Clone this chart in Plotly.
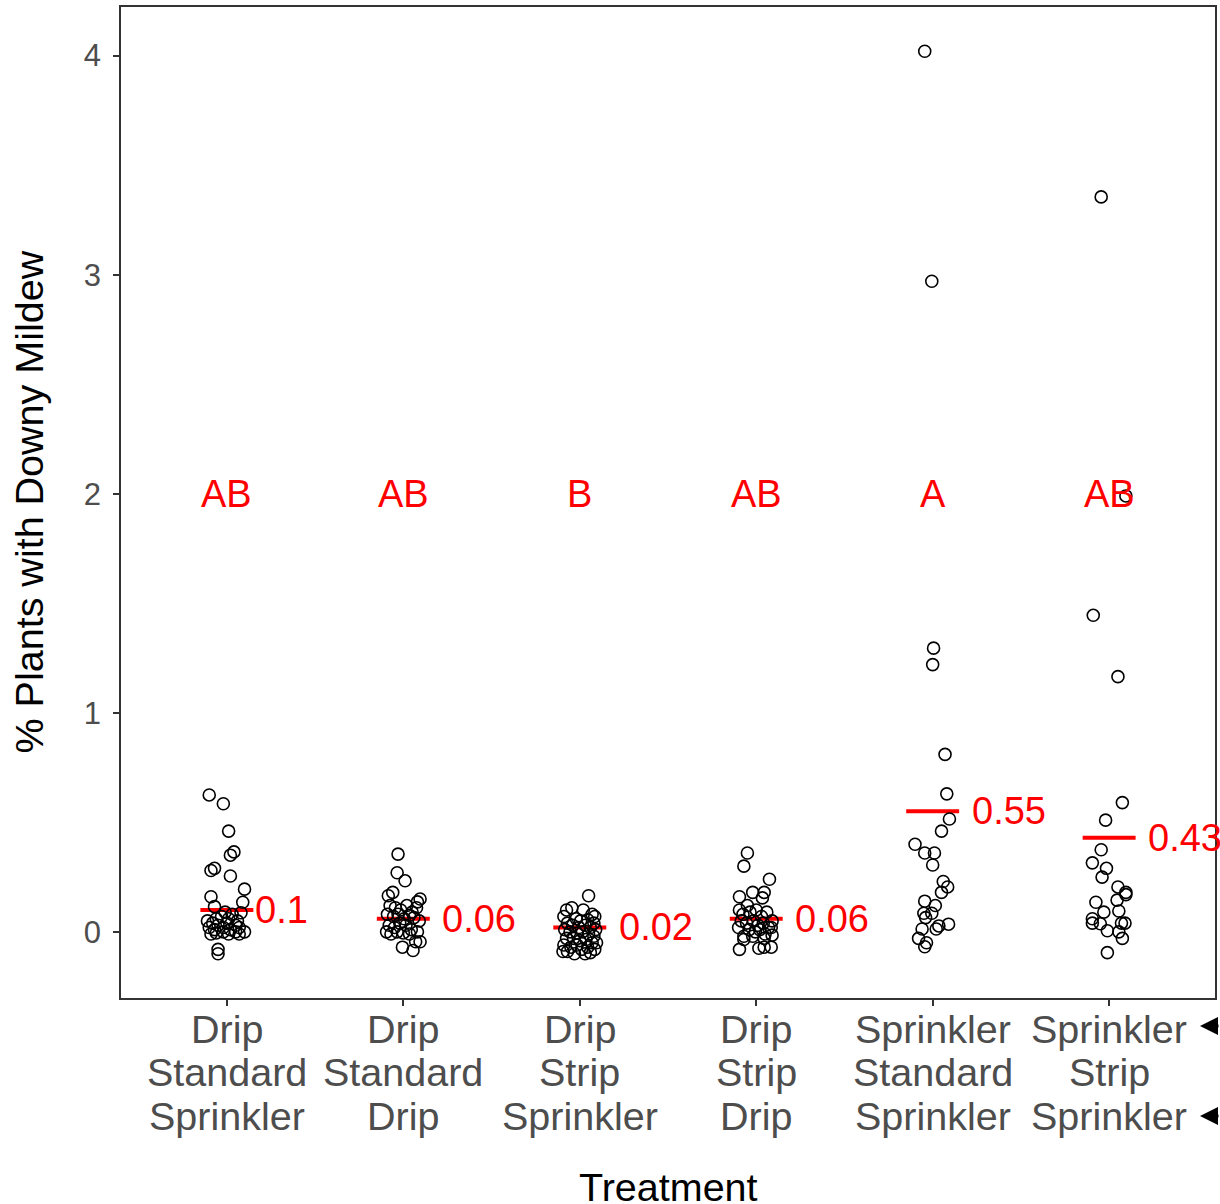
import plotly.graph_objects as go

# ---------------- data ----------------
category_lines = [
    ["Drip", "Standard", "Sprinkler"],
    ["Drip", "Standard", "Drip"],
    ["Drip", "Strip", "Sprinkler"],
    ["Drip", "Strip", "Drip"],
    ["Sprinkler", "Standard", "Sprinkler"],
    ["Sprinkler", "Strip", "Sprinkler"],
]
group_letters = ["AB", "AB", "B", "AB", "A", "AB"]
group_means = [0.1, 0.06, 0.02, 0.06, 0.55, 0.43]

jit_1 = [-0.10, -0.02, 0.01, 0.02, 0.04, -0.09, -0.07, 0.02, 0.10, -0.09, 0.09, -0.07, 0.08, -0.11, -0.08,
         -0.06, -0.03, -0.01, 0.01, 0.03, 0.06, -0.10, -0.07, -0.05, -0.02, 0.00, 0.02, 0.05, 0.07, -0.09,
         -0.06, -0.02, 0.01, 0.05, 0.10, 0.07, -0.05, -0.05]
val_1 = [0.625, 0.585, 0.46, 0.35, 0.365, 0.28, 0.29, 0.255, 0.195, 0.16, 0.135, 0.115, 0.087, 0.05, 0.04,
         0.06, 0.07, 0.09, 0.06, 0.08, 0.05, 0.02, 0.01, 0.03, 0.02, 0.04, 0.01, 0.03, 0.02, -0.01,
         -0.005, 0.0, -0.01, 0.0, 0.0, -0.01, -0.08, -0.10]

jit_2 = [-0.03, -0.035, 0.01, -0.06, -0.085, 0.095, 0.08, -0.075, -0.045, -0.015, 0.02, 0.05, 0.075, -0.09,
         -0.055, -0.03, 0.005, 0.035, 0.06, 0.09, -0.08, -0.05, -0.02, 0.015, 0.045, 0.08, -0.095, -0.07,
         -0.035, 0.0, 0.035, 0.07, -0.005, 0.055, 0.095]
val_2 = [0.355, 0.27, 0.233, 0.18, 0.165, 0.15, 0.137, 0.12, 0.11, 0.1, 0.12, 0.09, 0.11, 0.08,
         0.07, 0.08, 0.06, 0.075, 0.065, 0.05, 0.03, 0.02, 0.04, 0.03, 0.01, 0.0, 0.0, -0.01,
         0.0, -0.005, -0.01, -0.045, -0.07, -0.085, -0.045]

jit_3 = [0.05, -0.075, -0.045, 0.02, 0.07, 0.085, -0.09, -0.02, 0.005, 0.045, 0.08, -0.07, -0.04, -0.005,
         0.03, 0.06, 0.09, -0.085, -0.055, -0.015, 0.015, 0.05, 0.08, -0.075, -0.035, 0.0, 0.035, 0.07,
         -0.09, -0.05, -0.015, 0.01, 0.045, 0.085, -0.07, -0.03, 0.03, 0.06, -0.095, 0.095]
val_3 = [0.165, 0.1, 0.11, 0.1, 0.08, 0.07, 0.07, 0.06, 0.05, 0.055, 0.04, 0.04, 0.03, 0.02,
         0.03, 0.02, 0.01, 0.01, 0.0, -0.005, 0.0, -0.01, -0.02, -0.03, -0.03, -0.04, -0.035, -0.05,
         -0.06, -0.07, -0.06, -0.08, -0.07, -0.08, -0.09, -0.1, -0.1, -0.095, -0.09, -0.05]

jit_4 = [-0.05, -0.07, 0.075, -0.095, -0.02, 0.045, 0.035, -0.05, -0.095, -0.075, -0.035, 0.0, 0.03, 0.06,
         0.09, -0.085, -0.055, -0.015, 0.01, 0.04, 0.07, -0.1, -0.04, -0.005, 0.02, 0.05, 0.085, -0.07,
         -0.02, 0.09, -0.07, 0.045, -0.095, 0.015, 0.045, 0.085]
val_4 = [0.36, 0.3, 0.24, 0.16, 0.18, 0.18, 0.155, 0.12, 0.1, 0.08, 0.09, 0.1, 0.07, 0.09,
         0.05, 0.05, 0.04, 0.05, 0.03, 0.04, 0.02, 0.02, 0.01, 0.0, 0.01, -0.01, 0.02, -0.02,
         -0.02, -0.015, -0.035, -0.03, -0.08, -0.075, -0.07, -0.07]

jit_5 = [-0.045, -0.005, 0.005, 0.0, 0.07, 0.08, 0.095, 0.05, -0.1, -0.045, 0.01, 0.0, 0.06, 0.085,
         0.05, -0.045, 0.015, -0.05, -0.005, -0.04, 0.09, 0.035, 0.02, -0.06, -0.08, -0.035, -0.045]
val_5 = [4.02, 2.97, 1.295, 1.22, 0.81, 0.63, 0.515, 0.46, 0.40, 0.36, 0.36, 0.305, 0.23, 0.205,
         0.18, 0.14, 0.12, 0.085, 0.085, 0.065, 0.035, 0.027, 0.013, 0.013, -0.03, -0.05, -0.068]

jit_6 = [-0.045, 0.095, -0.09, 0.05, 0.075, -0.02, -0.045, -0.095, -0.015, -0.04, 0.05, 0.095, 0.095,
         0.045, -0.075, -0.03, 0.055, -0.095, -0.095, -0.05, 0.07, 0.09, -0.01, 0.055, 0.075, -0.01]
val_6 = [3.355, 1.99, 1.445, 1.165, 0.59, 0.51, 0.375, 0.315, 0.29, 0.25, 0.205, 0.18, 0.17,
         0.145, 0.135, 0.09, 0.095, 0.06, 0.04, 0.037, 0.04, 0.04, 0.005, 0.0, -0.03, -0.095]

jitters = [jit_1, jit_2, jit_3, jit_4, jit_5, jit_6]
values = [val_1, val_2, val_3, val_4, val_5, val_6]

y_ticks = [0, 1, 2, 3, 4]

# ---------------- figure ----------------
FONT = "Liberation Sans, Arial, Helvetica, sans-serif"
GREY = "#4D4D4D"
RED = "#FF0000"
LABEL_SIZE = 39.5
RED_SIZE = 38

W, H = 1220, 1204
L, R, T, B = 121, 3, 7, 206
plot_w = W - L - R

fig = go.Figure()

# mean lines
mx, my = [], []
for i, m in enumerate(group_means):
    c = i + 1
    mx += [c - 0.15, c + 0.15, None]
    my += [m, m, None]
fig.add_trace(go.Scatter(x=mx, y=my, mode="lines", line=dict(color=RED, width=4),
                         hoverinfo="skip", showlegend=False))

# points
for i, (jit, vals) in enumerate(zip(jitters, values)):
    c = i + 1
    fig.add_trace(go.Scatter(
        x=[c + j for j in jit], y=vals, mode="markers",
        marker=dict(symbol="circle-open", size=12, color="black", line=dict(width=1.6, color="black")),
        showlegend=False))

annotations = []
# letters
for i, lab in enumerate(group_letters):
    annotations.append(dict(x=i + 1, y=2, xref="x", yref="y", text=lab, showarrow=False,
                            font=dict(family=FONT, size=RED_SIZE, color=RED),
                            xanchor="center", yanchor="middle"))


def text_width(s, size):
    w = 0.0
    for ch in s:
        w += 0.278 if ch == "." else 0.556
    return w * size


# mean labels (hjust = -0.5 emulation)
for i, m in enumerate(group_means):
    s = f"{m:g}"
    annotations.append(dict(x=i + 1, y=m, xref="x", yref="y", text=s, showarrow=False,
                            font=dict(family=FONT, size=RED_SIZE, color=RED),
                            xanchor="left", yanchor="middle", xshift=0.5 * text_width(s, RED_SIZE)))

# x tick labels as three stacked lines
line_offsets = [31, 74, 118]
for i, lines in enumerate(category_lines):
    for k, t in enumerate(lines):
        annotations.append(dict(x=i + 1, y=0, xref="x", yref="paper", text=t, showarrow=False,
                                font=dict(family=FONT, size=LABEL_SIZE, color=GREY),
                                xanchor="center", yanchor="middle", yshift=-line_offsets[k]))

# axis titles
annotations.append(dict(x=0.5, y=0, xref="paper", yref="paper", text="Treatment", showarrow=False,
                        font=dict(family=FONT, size=LABEL_SIZE, color="black"),
                        xanchor="center", yanchor="middle", yshift=-189))
annotations.append(dict(x=0, y=0.5, xref="paper", yref="paper", text="% Plants with Downy Mildew",
                        showarrow=False, textangle=-90,
                        font=dict(family=FONT, size=LABEL_SIZE, color="black"),
                        xanchor="center", yanchor="middle", xshift=-93))

# arrows at right edge (pointing left toward the Sprinkler rows)
for off in [28, 118]:
    annotations.append(dict(x=(1202 - L) / plot_w, y=0, xref="paper", yref="paper", text="",
                            showarrow=True, arrowhead=2, arrowsize=1.2, arrowwidth=3,
                            arrowcolor="black", ax=40, ay=0, yshift=-off))

fig.update_layout(
    width=W, height=H,
    margin=dict(l=L, r=R, t=T, b=B, pad=0),
    paper_bgcolor="white", plot_bgcolor="white",
    font=dict(family=FONT),
    annotations=annotations,
    xaxis=dict(range=[0.4, 6.6], tickvals=[1, 2, 3, 4, 5, 6], showticklabels=False,
               ticks="outside", ticklen=6, tickwidth=1.5, tickcolor="#333333",
               showgrid=False, zeroline=False, showline=True, linecolor="#333333", linewidth=1.5,
               mirror=True),
    yaxis=dict(range=[-0.302, 4.222], tickvals=y_ticks, ticktext=[str(v) for v in y_ticks],
               ticks="outside", ticklen=6, tickwidth=1.5, tickcolor="#333333",
               tickfont=dict(family=FONT, size=31, color=GREY), ticklabelstandoff=6,
               showgrid=False, zeroline=False, showline=True, linecolor="#333333", linewidth=1.5,
               mirror=True),
)

fig.write_html(
    "out.html",
    config={"displayModeBar": False},
    post_script="document.body.style.margin='0';document.body.style.padding='0';"
                "document.body.style.overflow='hidden';"
                "document.documentElement.style.overflow='hidden';",
)
